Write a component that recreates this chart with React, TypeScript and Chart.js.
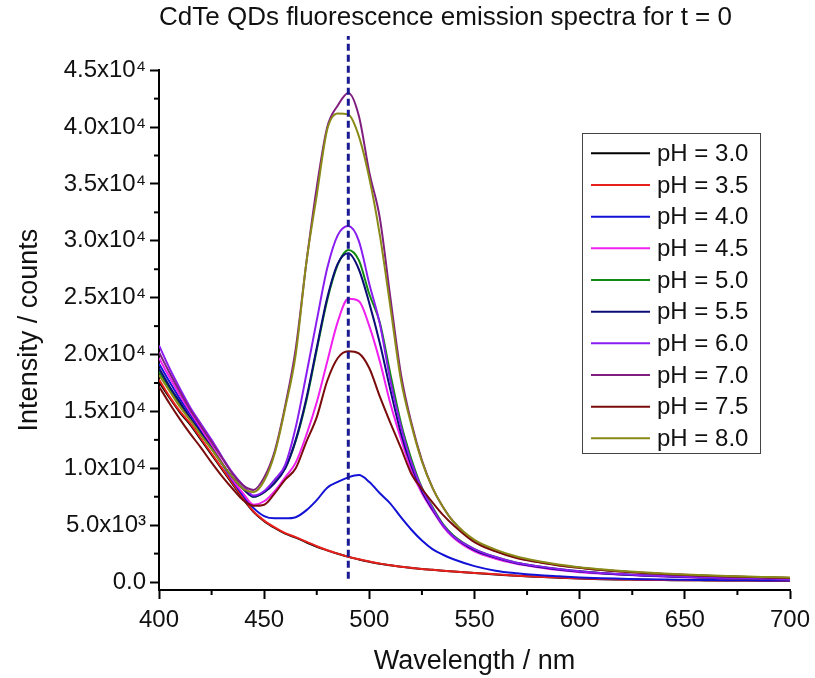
import { useEffect, useRef } from "react";
import { Chart, registerables } from "chart.js";

Chart.register(...registerables);

const FONT = '"Liberation Sans", Arial, Helvetica, sans-serif';

const WAVELENGTHS = [
  400, 405, 410, 415, 420, 425, 430, 435, 440, 445, 450, 455, 460, 465, 470, 475, 480, 485, 490, 495,
  500, 505, 510, 515, 520, 525, 530, 535, 540, 550, 560, 570, 580, 590, 600, 610, 620, 630, 640, 650,
  660, 670, 680, 690, 700,
];

const PH_30 = [
  17600, 16200, 14900, 13800, 12500, 11200, 9900, 8600, 7300, 6150, 5350, 4750, 4250, 3900, 3500, 3100, 2780, 2480, 2210, 1990,
  1790, 1610, 1470, 1340, 1240, 1140, 1070, 990, 920, 790, 670, 550, 460, 380, 310, 255, 225, 195, 175, 155,
  145, 135, 125, 115, 105,
];
const PH_35 = [
  17800, 16300, 15000, 13900, 12600, 11300, 10000, 8700, 7400, 6200, 5400, 4800, 4300, 3950, 3550, 3150, 2800, 2500, 2230, 2000,
  1800, 1620, 1480, 1350, 1250, 1150, 1080, 1000, 930, 800, 680, 560, 470, 390, 320, 260, 230, 200, 180, 160,
  150, 140, 130, 120, 110,
];
const PH_40 = [
  19200, 17600, 16100, 14700, 13300, 11900, 10400, 8900, 7600, 6500, 5800, 5600, 5600, 5700, 6300, 7200, 8300, 8800, 9200, 9400,
  8800, 7800, 6900, 5700, 4600, 3650, 2900, 2400, 2000, 1400, 1000, 770, 610, 500, 400, 330, 290, 250, 220, 200,
  180, 160, 150, 140, 130,
];
const PH_45 = [
  19700, 18000, 16400, 14900, 13500, 12000, 10500, 9000, 7800, 6800, 7100, 8000, 9200, 10500, 12900, 15800, 19400, 22900, 24900, 24700,
  22500, 19400, 15700, 12600, 9800, 7800, 6300, 4900, 3900, 2700, 2050, 1600, 1300, 1050, 870, 740, 640, 560, 480, 420,
  370, 330, 290, 260, 230,
];
const PH_50 = [
  18500, 17000, 15600, 14300, 13000, 11700, 10400, 9200, 8200, 7500, 7900, 8900, 10000, 12400, 15900, 20400, 24800, 27900, 29200, 28300,
  25300, 22800, 18300, 14000, 10800, 8300, 6600, 5100, 4100, 2900, 2200, 1700, 1400, 1150, 950, 800, 690, 600, 520, 460,
  400, 350, 310, 280, 250,
];
const PH_55 = [
  18800, 17200, 15800, 14400, 13100, 11800, 10400, 9200, 8200, 7500, 7900, 8700, 10000, 12500, 16100, 20600, 25000, 28000, 28900, 27500,
  24500, 21000, 16900, 13100, 10200, 8000, 6400, 5000, 4000, 2800, 2150, 1650, 1350, 1100, 920, 780, 670, 580, 500, 440,
  390, 340, 300, 270, 240,
];
const PH_60 = [
  20800, 18800, 17000, 15300, 13900, 12500, 11000, 9600, 8500, 7600, 8000, 9000, 10300, 13600, 18200, 23000, 27600, 30500, 31300, 30000,
  26200, 22700, 17700, 13700, 10500, 8200, 6500, 5000, 4000, 2900, 2200, 1700, 1400, 1150, 950, 800, 700, 600, 520, 460,
  400, 350, 310, 280, 250,
];
const PH_70 = [
  20200, 18400, 16700, 15100, 13700, 12300, 10900, 9500, 8500, 8100, 9200, 11500, 15500, 20500, 28000, 34700, 40000, 41900, 43000, 41000,
  36000, 32000, 25000, 18300, 14000, 10700, 8300, 6600, 5300, 3600, 2750, 2150, 1780, 1480, 1250, 1080, 930, 810, 710, 630,
  560, 500, 450, 400, 360,
];
const PH_75 = [
  17200, 15700, 14300, 13000, 11800, 10500, 9300, 8200, 7200, 6700, 6800, 7800, 9000, 10000, 12300, 14500, 17700, 19700, 20300, 20100,
  18800, 16300, 14000, 11800, 9500, 8200, 7000, 5900, 5000, 3500, 2700, 2100, 1750, 1450, 1250, 1060, 920, 800, 700, 620,
  550, 490, 440, 400, 360,
];
const PH_80 = [
  18200, 16800, 15400, 14200, 12900, 11700, 10400, 9200, 8200, 7900, 8900, 11300, 15300, 20000, 28000, 34000, 39800, 41200, 41100, 39200,
  35500, 30500, 24200, 17800, 13800, 10600, 8300, 6600, 5300, 3700, 2850, 2250, 1850, 1550, 1300, 1120, 970, 850, 750, 660,
  590, 530, 480, 440, 400,
];

const SERIES = [PH_30, PH_35, PH_40, PH_45, PH_50, PH_55, PH_60, PH_70, PH_75, PH_80];
const SERIES_LABELS = [
  "pH = 3.0", "pH = 3.5", "pH = 4.0", "pH = 4.5", "pH = 5.0",
  "pH = 5.5", "pH = 6.0", "pH = 7.0", "pH = 7.5", "pH = 8.0",
];
const SERIES_COLORS = [
  "#000000", "#e8201c", "#1212d6", "#f020f0", "#108a10",
  "#0c0c78", "#8a1ef0", "#801e80", "#7a0c0c", "#8a8a18",
];

const X_TICKS = [400, 450, 500, 550, 600, 650, 700];
const X_MINOR_TICKS = [425, 475, 525, 575, 625, 675];
const Y_TICKS = [0, 5000, 10000, 15000, 20000, 25000, 30000, 35000, 40000, 45000];
const Y_TICK_LABELS = [
  "0.0", "5.0x10\u00B3", "1.0x10\u2074", "1.5x10\u2074", "2.0x10\u2074",
  "2.5x10\u2074", "3.0x10\u2074", "3.5x10\u2074", "4.0x10\u2074", "4.5x10\u2074",
];
const Y_MINOR_TICKS = [2500, 7500, 12500, 17500, 22500, 27500, 32500, 37500, 42500];

const MARKER_X = [490, 490];
const MARKER_Y = [300, 48000];

const minorTicksPlugin = {
  id: "minorTicks",
  afterDraw(chart: any) {
    const { ctx, chartArea, scales } = chart;
    const x = scales.x;
    const y = scales.y;
    ctx.save();
    ctx.strokeStyle = "#000";
    ctx.lineWidth = 2;
    X_MINOR_TICKS.forEach((v) => {
      const px = x.getPixelForValue(v);
      ctx.beginPath();
      ctx.moveTo(px, chartArea.bottom);
      ctx.lineTo(px, chartArea.bottom + 5);
      ctx.stroke();
    });
    Y_MINOR_TICKS.forEach((v) => {
      const py = y.getPixelForValue(v);
      ctx.beginPath();
      ctx.moveTo(chartArea.left, py);
      ctx.lineTo(chartArea.left - 5, py);
      ctx.stroke();
    });
    ctx.restore();
  },
};

const boxLegendPlugin = {
  id: "boxLegend",
  afterDraw(chart: any) {
    const { ctx } = chart;
    const left = 582;
    const top = 133;
    const width = 178;
    const height = 320;
    const rowTop = 153.3;
    const rowStep = 31.67;
    ctx.save();
    ctx.fillStyle = "#ffffff";
    ctx.fillRect(left, top, width, height);
    ctx.strokeStyle = "#444";
    ctx.lineWidth = 1;
    ctx.strokeRect(left + 0.5, top + 0.5, width, height);
    ctx.font = `24px ${FONT}`;
    ctx.textBaseline = "middle";
    ctx.textAlign = "left";
    SERIES_LABELS.forEach((label, i) => {
      const yy = rowTop + i * rowStep;
      ctx.strokeStyle = SERIES_COLORS[i];
      ctx.lineWidth = 2;
      ctx.beginPath();
      ctx.moveTo(591, yy);
      ctx.lineTo(650, yy);
      ctx.stroke();
      ctx.fillStyle = "#111";
      ctx.fillText(label, 657, yy + 1);
    });
    ctx.restore();
  },
};

export default function App() {
  const canvasRef = useRef<HTMLCanvasElement | null>(null);

  useEffect(() => {
    const canvas = canvasRef.current;
    if (!canvas) return;

    const datasets: any[] = SERIES.map((vals, i) => ({
      label: SERIES_LABELS[i],
      data: WAVELENGTHS.map((w, j) => ({ x: w, y: vals[j] })),
      borderColor: SERIES_COLORS[i],
      backgroundColor: SERIES_COLORS[i],
      borderWidth: 2,
      pointRadius: 0,
      fill: false,
      cubicInterpolationMode: "monotone",
      order: SERIES.length - i,
    }));
    datasets.push({
      label: "marker",
      data: MARKER_X.map((x, j) => ({ x, y: MARKER_Y[j] })),
      borderColor: "#1a1a92",
      borderWidth: 3,
      borderDash: [7, 4],
      pointRadius: 0,
      fill: false,
      clip: false,
      order: 0,
    });

    const chart = new Chart(canvas, {
      type: "line",
      data: { datasets },
      options: {
        animation: false,
        responsive: false,
        maintainAspectRatio: false,
        layout: { padding: { left: 0, right: 25, top: 0, bottom: 0 } },
        plugins: {
          legend: { display: false },
          tooltip: { enabled: false },
          title: {
            display: true,
            text: "CdTe QDs fluorescence emission spectra for t = 0",
            align: "start",
            fullSize: false,
            color: "#111",
            font: { family: FONT, size: 26, weight: "normal" },
            padding: { top: 2, bottom: 37 },
          },
        },
        scales: {
          x: {
            type: "linear",
            min: 400,
            max: 700,
            afterBuildTicks: (s: any) => {
              s.ticks = X_TICKS.map((v) => ({ value: v }));
            },
            afterFit: (s: any) => {
              s.height = 88;
              s.paddingRight = 0;
              s.paddingLeft = 0;
            },
            ticks: {
              autoSkip: false,
              maxRotation: 0,
              padding: 7,
              color: "#111",
              font: { family: FONT, size: 24 },
              callback: (v: any) => String(v),
            },
            grid: {
              drawOnChartArea: false,
              drawTicks: true,
              tickLength: 9,
              tickWidth: 2,
              tickColor: "#000",
            },
            border: { display: true, color: "#000", width: 2 },
            title: {
              display: true,
              text: "Wavelength / nm",
              color: "#111",
              font: { family: FONT, size: 27 },
              padding: { top: 0, bottom: 0 },
            },
          },
          y: {
            type: "linear",
            min: -700,
            max: 45000,
            afterBuildTicks: (s: any) => {
              s.ticks = Y_TICKS.map((v) => ({ value: v }));
            },
            afterFit: (s: any) => {
              s.width = 159;
            },
            ticks: {
              padding: 4,
              color: "#111",
              font: { family: FONT, size: 24 },
              callback: (v: any) => {
                const idx = Y_TICKS.indexOf(Number(v));
                return idx >= 0 ? Y_TICK_LABELS[idx] : "";
              },
            },
            grid: {
              drawOnChartArea: false,
              drawTicks: true,
              tickLength: 9,
              tickWidth: 2,
              tickColor: "#000",
            },
            border: { display: true, color: "#000", width: 2 },
            title: {
              display: true,
              text: "Intensity / counts",
              color: "#111",
              font: { family: FONT, size: 27 },
              padding: { top: 13, bottom: 0 },
            },
          },
        },
      },
      plugins: [minorTicksPlugin, boxLegendPlugin],
    } as any);

    return () => {
      chart.destroy();
    };
  }, []);

  return (
    <div style={{ position: "absolute", left: 0, top: 0, width: 815, height: 678, background: "#fff" }}>
      <canvas ref={canvasRef} width={815} height={678} style={{ display: "block" }} />
    </div>
  );
}
